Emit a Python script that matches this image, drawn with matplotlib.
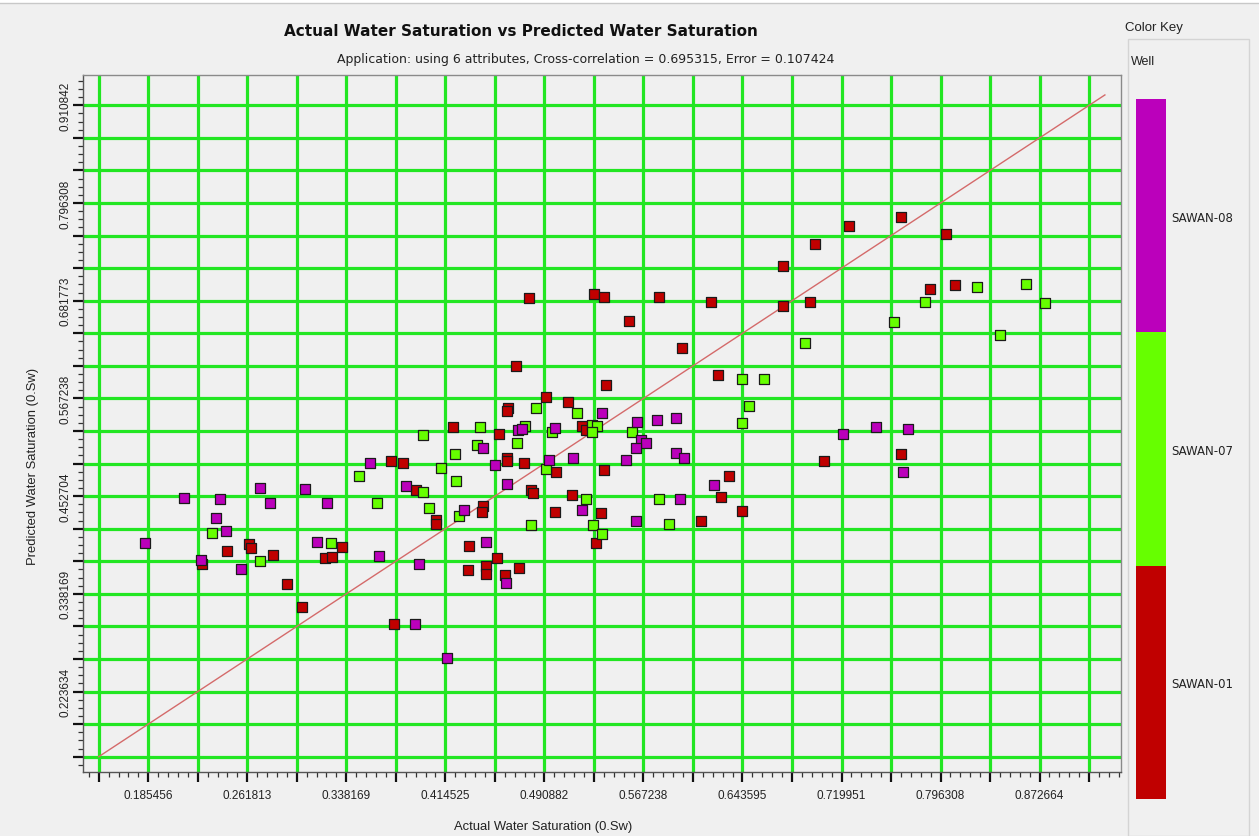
import matplotlib
matplotlib.use("Agg")
import matplotlib.pyplot as plt
from matplotlib.colors import ListedColormap, BoundaryNorm
from matplotlib.ticker import FixedLocator, FuncFormatter, AutoMinorLocator
from matplotlib.patches import Rectangle
from matplotlib.lines import Line2D

# ---------------- data ----------------
wells = ["SAWAN-01", "SAWAN-07", "SAWAN-08"]
well_colors = ["#c00000", "#66ff00", "#bb00bb"]

# SAWAN-01 : actual Sw, predicted Sw
sawan01_actual = [
    0.2269, 0.2464, 0.2632, 0.2647, 0.2814, 0.2922, 0.3040, 0.3217, 0.3271, 0.3346,
    0.3724, 0.3821, 0.3917, 0.3752, 0.4071, 0.4071, 0.4207, 0.4328, 0.4318, 0.4433,
    0.4426, 0.4456, 0.4456, 0.4544, 0.4557, 0.4605, 0.4623, 0.4623, 0.4631, 0.4623,
    0.4692, 0.4713, 0.4752, 0.4793, 0.4806, 0.4823, 0.4919, 0.4998, 0.4991, 0.5091,
    0.5119, 0.5197, 0.5227, 0.5294, 0.5366, 0.5307, 0.5345, 0.5368, 0.5384, 0.5564,
    0.5790, 0.5970, 0.6120, 0.6197, 0.6251, 0.6268, 0.6334, 0.6435, 0.6751, 0.6751,
    0.6959, 0.6997, 0.7067, 0.7257, 0.7661, 0.7661, 0.7880, 0.8007, 0.8077]
sawan01_pred = [
    0.3735, 0.3884, 0.3966, 0.3919, 0.3841, 0.3494, 0.3224, 0.3798, 0.3814, 0.3931,
    0.4939, 0.4912, 0.4596, 0.3028, 0.4251, 0.4204, 0.5334, 0.3946, 0.3661, 0.4415,
    0.4345, 0.3705, 0.3614, 0.3798, 0.5259, 0.3603, 0.4971, 0.4935, 0.5557, 0.5525,
    0.6053, 0.3688, 0.4912, 0.6850, 0.4603, 0.4564, 0.5693, 0.4807, 0.4338, 0.5634,
    0.4535, 0.5346, 0.5306, 0.6897, 0.6865, 0.3978, 0.4324, 0.4833, 0.5830, 0.6580,
    0.6865, 0.6264, 0.4236, 0.6806, 0.5947, 0.4517, 0.4763, 0.4353, 0.7228, 0.6759,
    0.6806, 0.7483, 0.4939, 0.7694, 0.7799, 0.5018, 0.6959, 0.7603, 0.7002]

# SAWAN-07
sawan07_actual = [
    0.2349, 0.2714, 0.3266, 0.3477, 0.3621, 0.3971, 0.3971, 0.4022, 0.4109, 0.4220,
    0.4227, 0.4248, 0.4387, 0.4415, 0.4695, 0.4759, 0.4803, 0.4842, 0.4919, 0.4970,
    0.5158, 0.5276, 0.5317, 0.5276, 0.5227, 0.5286, 0.5353, 0.5584, 0.5790, 0.5872,
    0.6435, 0.6604, 0.6484, 0.6435, 0.6920, 0.7602, 0.7841, 0.8244, 0.8421, 0.8622,
    0.8771]
sawan07_pred = [
    0.4095, 0.3767, 0.3978, 0.4760, 0.4447, 0.4579, 0.5244, 0.4385, 0.4853, 0.5018,
    0.4705, 0.4291, 0.5127, 0.5334, 0.5150, 0.5353, 0.4192, 0.5560, 0.4849, 0.5275,
    0.5498, 0.5361, 0.5349, 0.5279, 0.4494, 0.4192, 0.4087, 0.5275, 0.4494, 0.4204,
    0.5904, 0.5904, 0.5587, 0.5388, 0.6326, 0.6565, 0.6806, 0.6975, 0.6416, 0.7017,
    0.6791]

# SAWAN-08
sawan08_actual = [
    0.1832, 0.2130, 0.2408, 0.2377, 0.2457, 0.2259, 0.2568, 0.2716, 0.2793, 0.3063,
    0.3158, 0.3231, 0.3564, 0.3634, 0.3842, 0.3940, 0.3911, 0.4160, 0.4289, 0.4436,
    0.4456, 0.4526, 0.4613, 0.4623, 0.4703, 0.4734, 0.4942, 0.4988, 0.5129, 0.5197,
    0.5355, 0.5536, 0.5625, 0.5654, 0.5690, 0.5615, 0.5615, 0.5779, 0.5920, 0.5920,
    0.5988, 0.5951, 0.6217, 0.7209, 0.7465, 0.7712, 0.7671]
sawan08_pred = [
    0.3978, 0.4505, 0.4490, 0.4267, 0.4115, 0.3782, 0.3677, 0.4626, 0.4443, 0.4607,
    0.3989, 0.4443, 0.4912, 0.3829, 0.4642, 0.3735, 0.3028, 0.2626, 0.4368, 0.5091,
    0.3993, 0.4896, 0.3509, 0.4669, 0.5302, 0.5314, 0.4954, 0.5322, 0.4971, 0.4368,
    0.5498, 0.4954, 0.5393, 0.5185, 0.5153, 0.5088, 0.4232, 0.5423, 0.5440, 0.5033,
    0.4971, 0.4494, 0.4661, 0.5255, 0.5334, 0.5318, 0.4807]

x_tick_labels = ["0.185456", "0.261813", "0.338169", "0.414525", "0.490882",
                 "0.567238", "0.643595", "0.719951", "0.796308", "0.872664"]
y_tick_labels = ["0.223634", "0.338169", "0.452704", "0.567238", "0.681773",
                 "0.796308", "0.910842"]

grid_start = 0.147278
grid_step = 0.038178
grid_count = 21
x_limits = (0.13518, 0.93542)
y_limits = (0.12935, 0.94637)
diag_range = (0.147278, 0.923)

title = "Actual Water Saturation vs Predicted Water Saturation"
subtitle = ("Application: using 6 attributes, Cross-correlation = 0.695315, "
            "Error = 0.107424")

# ---------------- figure ----------------
W, H = 1259, 837
BG = "#f0f0f0"
TXT = "#222222"
plt.rcParams["font.family"] = ["Liberation Sans", "DejaVu Sans"]

fig = plt.figure(figsize=(W / 100, H / 100), dpi=100, facecolor=BG)

# window frame line at the very top
fig.add_artist(Rectangle((0, 1 - 4 / H), 1, 4 / H, transform=fig.transFigure,
                         facecolor="white", edgecolor="none"))
fig.add_artist(Line2D([0, 1], [1 - 4 / H, 1 - 4 / H], transform=fig.transFigure,
                      color="#c8c8c8", lw=1))

ax = fig.add_axes([83 / W, 1 - 773 / H, (1121 - 83) / W, (773 - 76) / H])
ax.set_facecolor(BG)
ax.set_xlim(*x_limits)
ax.set_ylim(*y_limits)

grid_pos = [grid_start + i * grid_step for i in range(grid_count)]
ax.xaxis.set_major_locator(FixedLocator(grid_pos))
ax.yaxis.set_major_locator(FixedLocator(grid_pos))
ax.xaxis.set_minor_locator(AutoMinorLocator(5))
ax.yaxis.set_minor_locator(AutoMinorLocator(4))


def make_formatter(labels):
    vals = [float(s) for s in labels]

    def fmt(v, pos):
        for val, s in zip(vals, labels):
            if abs(v - val) < 1e-4:
                return s
        return ""
    return FuncFormatter(fmt)


ax.xaxis.set_major_formatter(make_formatter(x_tick_labels))
ax.yaxis.set_major_formatter(make_formatter(y_tick_labels))

ax.tick_params(which="major", length=7, width=1.6, color="#111111",
               labelsize=8.5, labelcolor=TXT)
ax.tick_params(which="minor", length=3.5, width=0.9, color="#333333")
ax.tick_params(axis="x", pad=5)
ax.tick_params(axis="y", pad=1)
plt.setp(ax.get_yticklabels(), rotation=90, va="center")

ax.grid(which="major", color="#22e622", lw=2.3, zorder=0)
ax.set_axisbelow(True)
for side in ["top", "right"]:
    ax.spines[side].set_color("#8a8a8a")
    ax.spines[side].set_linewidth(1.0)
for side in ["left", "bottom"]:
    ax.spines[side].set_color("#555555")
    ax.spines[side].set_linewidth(1.0)

# one-to-one reference line
ax.plot(diag_range, diag_range, color="#d46a6a", lw=1.0, zorder=2)

series = [(sawan01_actual, sawan01_pred), (sawan07_actual, sawan07_pred),
          (sawan08_actual, sawan08_pred)]
for (xs, ys), col in zip(series, well_colors):
    ax.scatter(xs, ys, s=60, marker="s", c=col, edgecolors="#1a1a1a",
               linewidths=0.9, zorder=3)

ax.set_xlabel("Actual Water Saturation (0.Sw)", fontsize=9.4, color=TXT)
ax.set_ylabel("Predicted Water Saturation (0.Sw)", fontsize=9.4, color=TXT)
ax.xaxis.set_label_coords((543 - 83) / (1121 - 83), (773 - 827) / (773 - 76))
ax.yaxis.set_label_coords((33 - 83) / (1121 - 83), (773 - 466) / (773 - 76))
ax.xaxis.label.set_va("center")
ax.yaxis.label.set_va("center")

fig.text(521 / W, 1 - 32 / H, title, ha="center", va="center",
         fontsize=11, fontweight="bold", color="#111111",
         family=["DejaVu Sans"])
fig.text(586 / W, 1 - 59 / H, subtitle, ha="center", va="center",
         fontsize=9.0, color=TXT, family=["DejaVu Sans"])

# ---------------- colour key ----------------
fig.text(1125 / W, 1 - 28 / H, "Color Key", ha="left", va="center",
         fontsize=9.5, color=TXT)
fig.add_artist(Rectangle((1128 / W, 0), 121 / W, 1 - 40 / H,
                         transform=fig.transFigure, facecolor="none",
                         edgecolor="#d4d4d4", lw=1))
fig.text(1131 / W, 1 - 62 / H, "Well", ha="left", va="center",
         fontsize=9.0, color=TXT)

cax = fig.add_axes([1136 / W, 1 - 800 / H, 30 / W, 700 / H])
cmap = ListedColormap(well_colors)
norm = BoundaryNorm([0, 1, 2, 3], cmap.N)
sm = matplotlib.cm.ScalarMappable(norm=norm, cmap=cmap)
cb = fig.colorbar(sm, cax=cax, ticks=[0.5, 1.5, 2.5])
cb.set_ticklabels(wells)
cb.outline.set_visible(False)
cax.minorticks_off()
cax.tick_params(which="both", length=0, pad=4, labelsize=8.5, labelcolor=TXT)
for lbl in cax.get_yticklabels():
    lbl.set_family(["DejaVu Sans"])

fig.savefig("out.png", dpi=100, facecolor=BG)
